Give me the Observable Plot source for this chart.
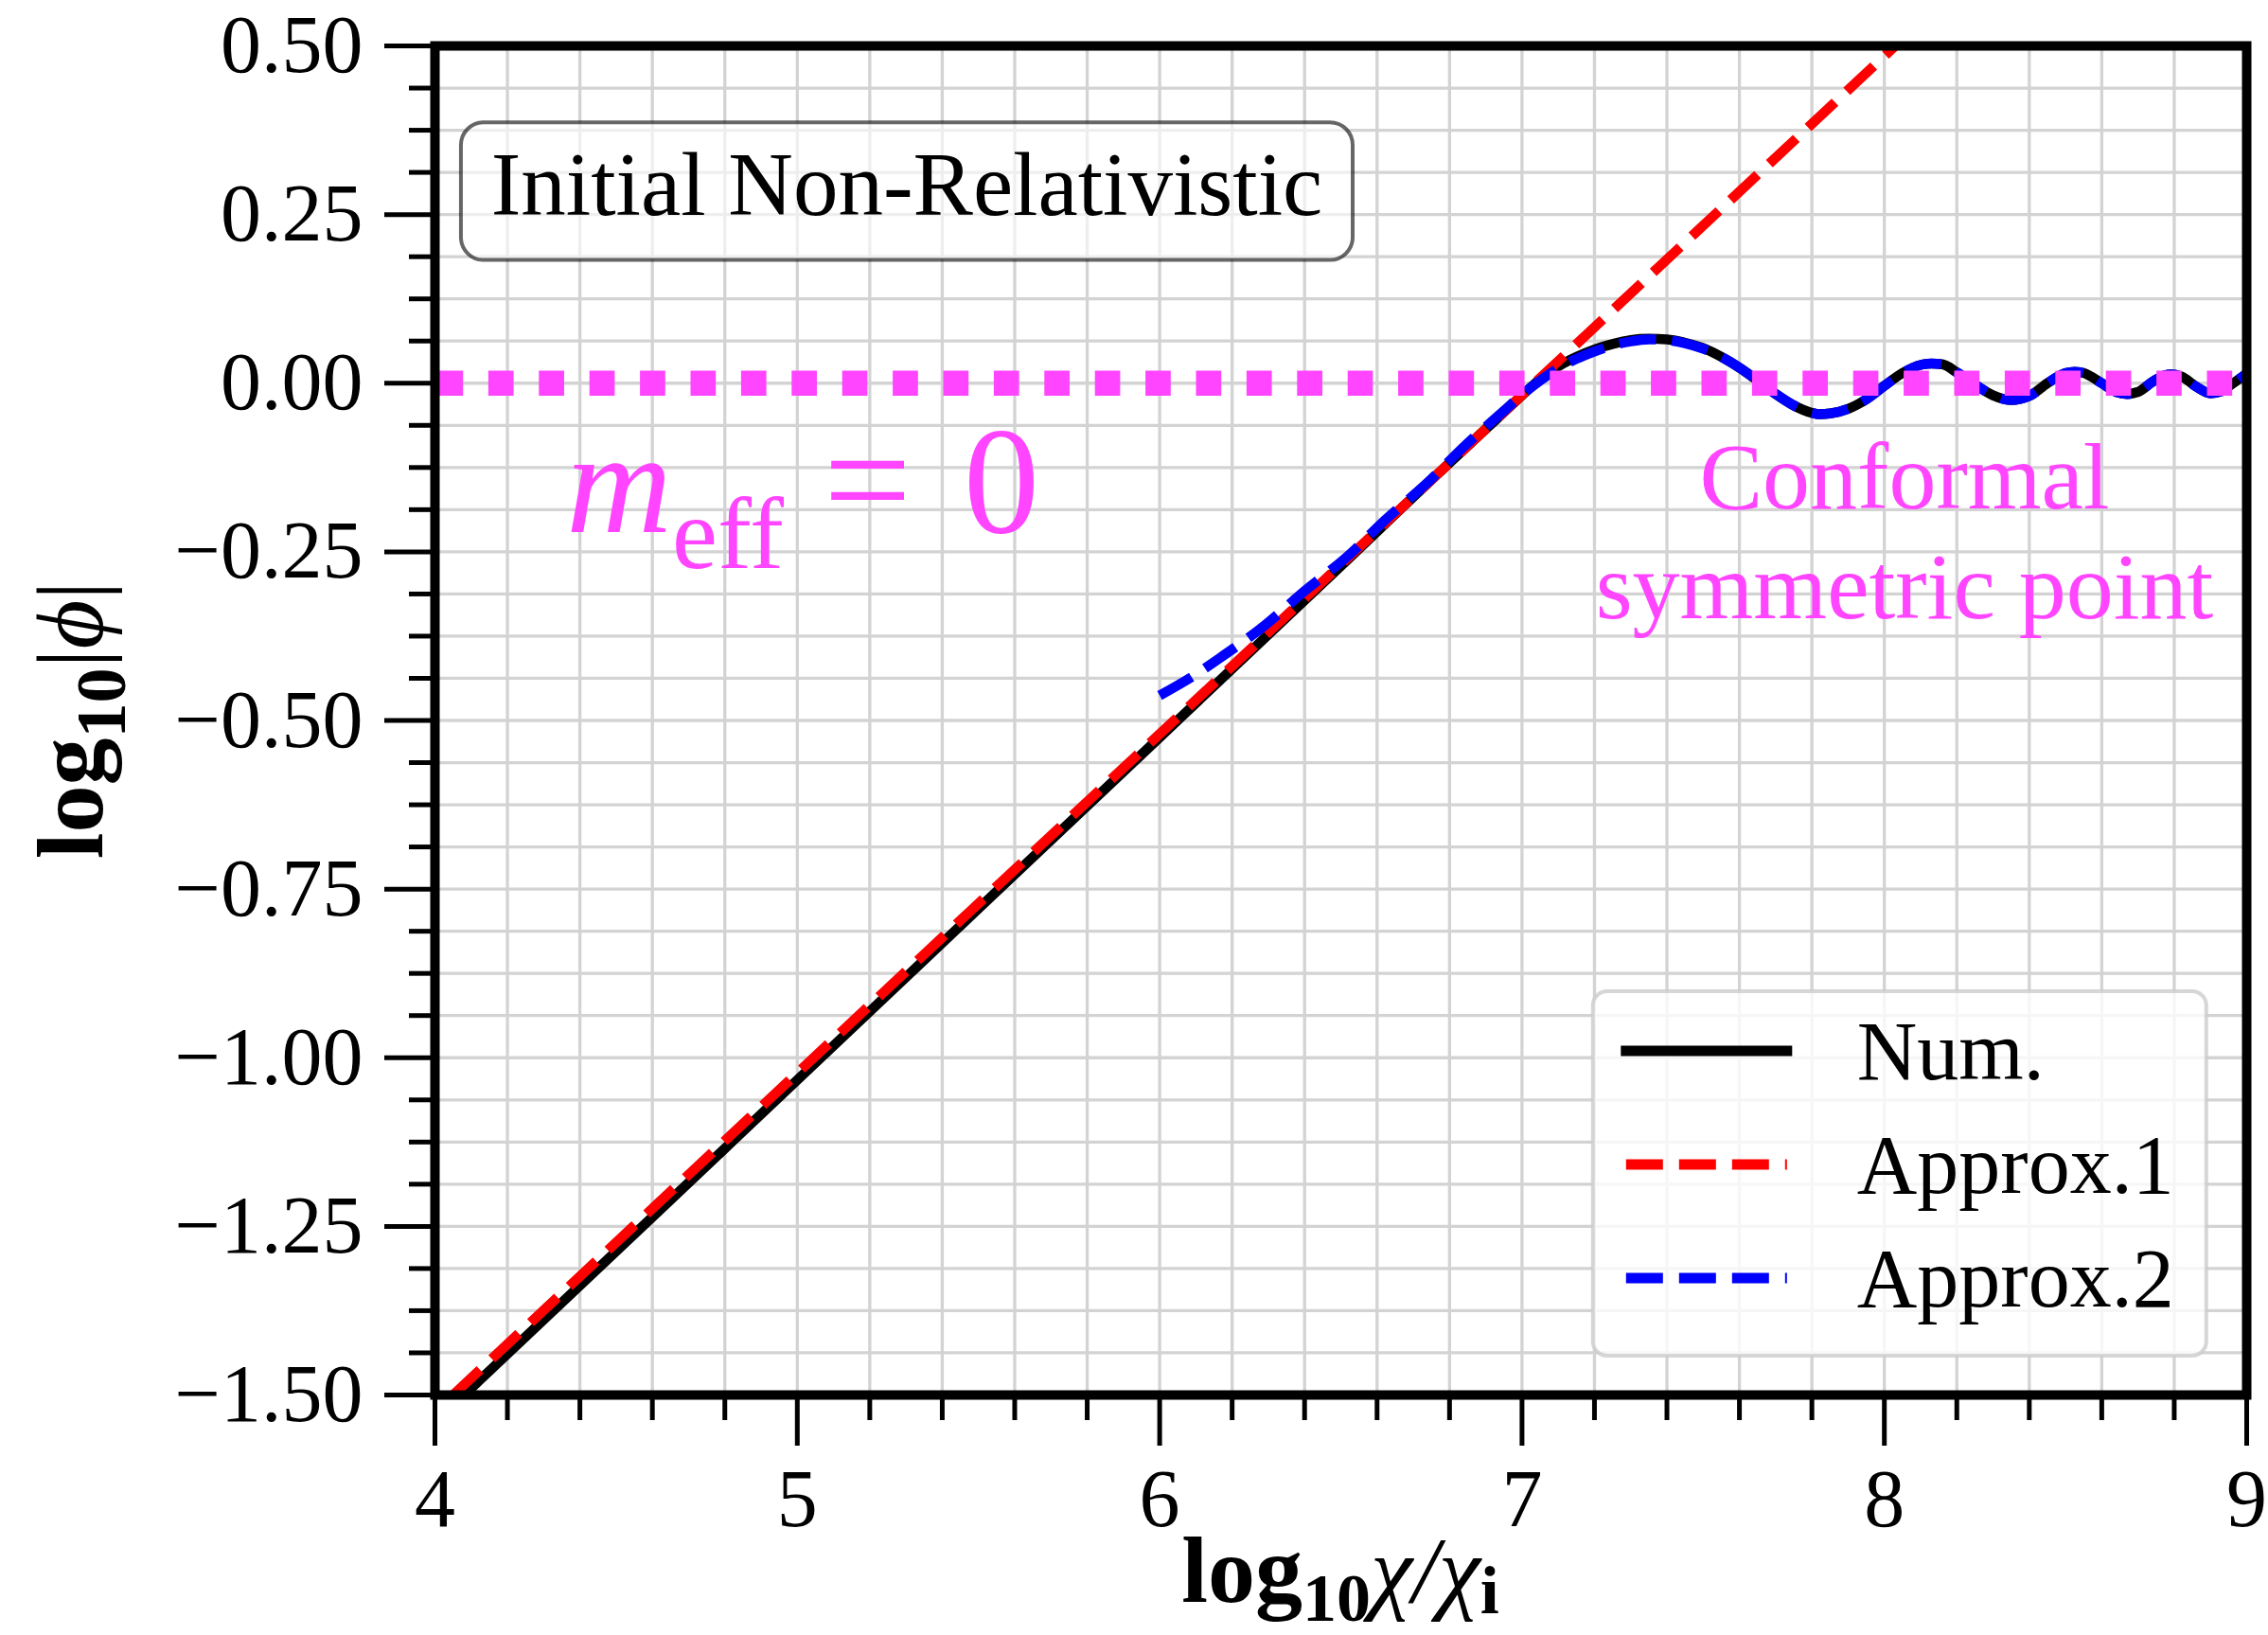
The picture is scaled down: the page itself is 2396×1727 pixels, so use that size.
<!DOCTYPE html>
<html>
<head>
<meta charset="utf-8">
<script src="https://cdn.jsdelivr.net/npm/d3@7"></script>
<script src="https://cdn.jsdelivr.net/npm/@observablehq/plot@0.6"></script>
<style>
  html, body { margin: 0; padding: 0; background: #fff; }
  svg { display: block; }
</style>
</head>
<body>
<div id="chart"></div>
<script>
// Numerical solution: log10(chi/chi_i) against log10|phi|
const numX = [4.08, 4.5, 5.0, 5.5, 6.0, 6.5, 6.8, 6.9, 6.95, 7.0, 7.05, 7.1, 7.15, 7.2, 7.25, 7.3, 7.35, 7.4, 7.45, 7.5,
  7.55, 7.6, 7.65, 7.7, 7.75, 7.8, 7.82, 7.85, 7.9, 7.95, 8.0, 8.05, 8.1, 8.13, 8.16, 8.2, 8.25, 8.3, 8.35, 8.4,
  8.45, 8.5, 8.525, 8.55, 8.6, 8.64, 8.67, 8.7, 8.74, 8.77, 8.79, 8.82, 8.86, 8.9, 8.93, 8.96, 9.0];
const numY = [-1.50, -1.287, -1.033, -0.779, -0.525, -0.271, -0.118, -0.068, -0.043, -0.018, 0.006, 0.025, 0.039, 0.050, 0.058, 0.064, 0.066, 0.065, 0.060, 0.052,
  0.039, 0.023, 0.004, -0.016, -0.033, -0.044, -0.046, -0.045, -0.038, -0.024, -0.004, 0.015, 0.027, 0.029, 0.028, 0.016, -0.002, -0.018, -0.025, -0.019,
  0.000, 0.015, 0.017, 0.015, 0.000, -0.013, -0.016, -0.013, 0.002, 0.011, 0.013, 0.010, -0.005, -0.015, -0.012, -0.001, 0.014];

// Approximation 1: power-law growth
const approx1X = [4.05, 8.03];
const approx1Y = [-1.5, 0.5];

// Approximation 2: valid from log10(chi/chi_i) = 6 onwards
const approx2X = [6.0, 6.09, 6.17, 6.29, 6.4, 6.52, 6.62, 6.74, 6.84, 6.95, 7.0, 7.05, 7.1, 7.15, 7.2, 7.25, 7.3, 7.35, 7.4, 7.45, 7.5,
  7.55, 7.6, 7.65, 7.7, 7.75, 7.8, 7.82, 7.85, 7.9, 7.95, 8.0, 8.05, 8.1, 8.13, 8.16, 8.2, 8.25, 8.3, 8.35, 8.4,
  8.45, 8.5, 8.525, 8.55, 8.6, 8.64, 8.67, 8.7, 8.74, 8.77, 8.79, 8.82, 8.86, 8.9, 8.93, 8.96, 9.0];
const approx2Y = [-0.463, -0.435, -0.406, -0.359, -0.308, -0.256, -0.204, -0.147, -0.094, -0.041, -0.017, 0.004, 0.022, 0.036, 0.047, 0.056, 0.062, 0.065, 0.064, 0.059, 0.051,
  0.039, 0.023, 0.004, -0.016, -0.033, -0.044, -0.046, -0.045, -0.038, -0.024, -0.004, 0.015, 0.027, 0.029, 0.028, 0.016, -0.002, -0.018, -0.025, -0.019,
  0.000, 0.015, 0.017, 0.015, 0.000, -0.013, -0.016, -0.013, 0.002, 0.011, 0.013, 0.010, -0.005, -0.015, -0.012, -0.001, 0.014];

// Conformal symmetric point, m_eff = 0
const conformalX = [4, 9];
const conformalY = [0, 0];

// Ticks
const xMajorTicks = [4, 5, 6, 7, 8, 9];
const yMajorTicks = [0.5, 0.25, 0, -0.25, -0.5, -0.75, -1, -1.25, -1.5];
const xAllTicks = d3.range(0, 26).map(i => 4 + i * 0.2);
const yAllTicks = d3.range(0, 33).map(i => -1.5 + i * 0.0625);
const near = (a, list) => list.some(b => Math.abs(a - b) < 1e-6);
const xMinorTicks = xAllTicks.filter(v => !near(v, xMajorTicks));
const yMinorTicks = yAllTicks.filter(v => !near(v, yMajorTicks));

const legendLabels = ["Num.", "Approx.1", "Approx.2"];
const titleText = "Initial Non-Relativistic";
const noteLines = ["Conformal", "symmetric point"];

const PINK = "#ff45ff";
const SERIF = "'Liberation Serif', 'DejaVu Serif', serif";

const toRows = (xs, ys) => xs.map((x, i) => ({x, y: ys[i]}));
const num = toRows(numX, numY);
const approx1 = toRows(approx1X, approx1Y);
const approx2 = toRows(approx2X, approx2Y);
const conformal = toRows(conformalX, conformalY);

const fmtY = d => (d < 0 ? "\u2212" : "") + Math.abs(d).toFixed(2);

const chart = Plot.plot({
  width: 2396,
  height: 1727,
  marginLeft: 459,
  marginRight: 23,
  marginTop: 48,
  marginBottom: 254,
  x: {domain: [4, 9], label: null},
  y: {domain: [-1.5, 0.5], label: null},
  style: {fontFamily: SERIF, background: "white", color: "black"},
  marks: [
    Plot.gridX({ticks: xAllTicks, stroke: "#d3d3d3", strokeOpacity: 1, strokeWidth: 3.3}),
    Plot.gridY({ticks: yAllTicks, stroke: "#d3d3d3", strokeOpacity: 1, strokeWidth: 3.3}),
    Plot.line(num, {x: "x", y: "y", stroke: "black", strokeWidth: 10.5, curve: "monotone-x", clip: true}),
    Plot.line(approx1, {x: "x", y: "y", stroke: "#ff0000", strokeWidth: 10.5, strokeDasharray: "39,17", strokeLinecap: "butt", clip: true}),
    Plot.line(approx2, {x: "x", y: "y", stroke: "#0000ff", strokeWidth: 10.5, strokeDasharray: "39,17", strokeLinecap: "butt", curve: "monotone-x", clip: true}),
    Plot.line(conformal, {x: "x", y: "y", stroke: PINK, strokeWidth: 26.7, strokeDasharray: "26.7,26.7", strokeDashoffset: -3, strokeLinecap: "butt", clip: true}),
    Plot.frame({stroke: "black", strokeWidth: 10}),
    Plot.axisX({ticks: xMajorTicks, tickSize: 54, tickPadding: 23, strokeWidth: 5, fontSize: 86, tickFormat: d => String(d), label: null}),
    Plot.axisX({ticks: xMinorTicks, tickSize: 27, strokeWidth: 5, tickFormat: () => "", label: null}),
    Plot.axisY({ticks: yMajorTicks, tickSize: 53, tickPadding: 23, strokeWidth: 5, fontSize: 86, tickFormat: fmtY, label: null}),
    Plot.axisY({ticks: yMinorTicks, tickSize: 27, strokeWidth: 5, tickFormat: () => "", label: null})
  ]
});

document.getElementById("chart").appendChild(chart);

const svg = d3.select(chart);
const xs = chart.scale("x");
const ys = chart.scale("y");
const px = v => xs.apply(v);
const py = v => ys.apply(v);

// Text helper with explicit anchor (the Plot root sets its own default)
const addText = (x, y, anchor) => svg.append("text")
  .attr("x", x).attr("y", y)
  .attr("text-anchor", anchor)
  .attr("font-family", SERIF);

// Axis titles
const xMid = (px(4) + px(9)) / 2;
const yMid = (py(0.5) + py(-1.5)) / 2;

const xl = addText(xMid, 1692, "middle").attr("font-size", 100).attr("fill", "black");
xl.append("tspan").attr("font-weight", "bold").text("log");
xl.append("tspan").attr("font-weight", "bold").attr("font-size", 72).attr("dy", 20).text("10");
xl.append("tspan").attr("font-style", "italic").attr("dy", -20).text("\u03c7/\u03c7");
xl.append("tspan").attr("font-weight", "bold").attr("font-size", 72).attr("dy", 12).text("i");

const yl = svg.append("text")
  .attr("transform", `translate(108, ${yMid}) rotate(-90)`)
  .attr("text-anchor", "middle")
  .attr("font-family", SERIF).attr("font-size", 100).attr("fill", "black");
yl.append("tspan").attr("font-weight", "bold").text("log");
yl.append("tspan").attr("font-weight", "bold").attr("font-size", 74).attr("dy", 24).text("10");
yl.append("tspan").attr("dy", -24).text("|");
yl.append("tspan").attr("font-style", "italic").text("\u03d5");
yl.append("tspan").text("|");

// Boxed title in the upper left
const tb = {x0: px(4.073), x1: px(6.534), y0: py(0.386), y1: py(0.182)};
svg.append("rect")
  .attr("x", tb.x0).attr("y", tb.y0)
  .attr("width", tb.x1 - tb.x0).attr("height", tb.y1 - tb.y0)
  .attr("rx", 24).attr("ry", 24)
  .attr("fill", "white").attr("fill-opacity", 0.62)
  .attr("stroke", "black").attr("stroke-opacity", 0.6).attr("stroke-width", 4);
addText((tb.x0 + tb.x1) / 2, py(0.249), "middle")
  .attr("font-size", 95).attr("fill", "black")
  .text(titleText);

// m_eff = 0 annotation
const mx = px(4.363), my = py(-0.2214);
addText(mx, my, "start").attr("font-size", 155).attr("font-style", "italic").attr("fill", PINK).text("m");
addText(mx + 112, my + 38, "start").attr("font-size", 108).attr("fill", PINK).text("eff");
addText(mx + 272, my, "start").attr("font-size", 165).attr("fill", PINK).text("=");
addText(mx + 420, my, "start").attr("font-size", 160).attr("fill", PINK).text("0");

// Conformal symmetric point note
noteLines.forEach((line, i) => {
  addText(px(8.057), py(i === 0 ? -0.186 : -0.349), "middle")
    .attr("font-size", 100).attr("fill", PINK)
    .text(line);
});

// Legend
const lg = {x0: px(7.197), y0: py(-0.902)};
const lgW = 648, lgH = 385;
svg.append("rect")
  .attr("x", lg.x0).attr("y", lg.y0).attr("width", lgW).attr("height", lgH)
  .attr("rx", 15).attr("ry", 15)
  .attr("fill", "white").attr("fill-opacity", 0.8)
  .attr("stroke", "#cccccc").attr("stroke-opacity", 0.8).attr("stroke-width", 4);
const legendStyles = [
  {stroke: "black", dash: null, cap: "square"},
  {stroke: "#ff0000", dash: "39,17", cap: "butt"},
  {stroke: "#0000ff", dash: "39,17", cap: "butt"}
];
legendLabels.forEach((label, i) => {
  const cy = lg.y0 + 63 + i * 120;
  const s = legendStyles[i];
  const ln = svg.append("line")
    .attr("x1", lg.x0 + 35).attr("x2", lg.x0 + 205)
    .attr("y1", cy).attr("y2", cy)
    .attr("stroke", s.stroke).attr("stroke-width", 11).attr("stroke-linecap", s.cap);
  if (s.dash) ln.attr("stroke-dasharray", s.dash);
  addText(lg.x0 + 279, cy + 30, "start")
    .attr("font-size", 88).attr("fill", "black")
    .text(label);
});
</script>
</body>
</html>
